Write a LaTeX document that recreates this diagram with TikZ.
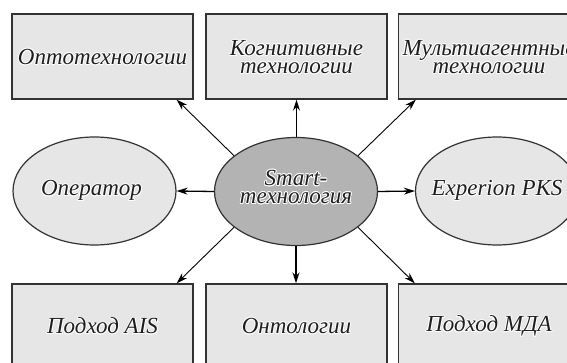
\documentclass[tikz,border=0pt]{standalone}
\usepackage{fontspec}
\setmainfont{Liberation Serif}
\usepackage{contour}
\contourlength{0.8pt}
\usetikzlibrary{arrows.meta,shapes.geometric,calc}
\newcommand{\halo}[1]{\contour{white}{#1}}
\definecolor{boxfill}{HTML}{E6E6E6}
\definecolor{midfill}{HTML}{B3B3B3}
\definecolor{edge}{HTML}{333333}
\definecolor{ink}{HTML}{1E1E1E}
\tikzset{
  boxst/.style={draw=edge,line width=1.4pt,fill=boxfill,minimum width=181pt,minimum height=85pt,inner sep=0pt},
  ellst/.style={ellipse,draw=edge,line width=1.2pt,fill=boxfill,minimum width=163pt,minimum height=108pt,inner sep=0pt},
  lbl/.style={font=\fontsize{23}{18}\selectfont\itshape,align=center,text=ink,inner sep=0pt},
  arr/.style={-{Stealth[length=11pt,width=7pt]},line width=0.9pt,black},
  arrb/.style={-{Stealth[length=11pt,width=7pt]},line width=1.3pt,black}
}
\begin{document}
\begin{tikzpicture}[x=1pt,y=-1pt]
\useasboundingbox (0,0) rectangle (567,363);
\clip (0,0) rectangle (567,363);
% top boxes
\node[boxst] (t1) at (102.5,56.5) {};
\node[boxst] (t2) at (296.5,56.5) {};
\node[boxst] (t3) at (489,56.5) {};
% bottom boxes
\node[boxst] (b1) at (102.5,326.5) {};
\node[boxst] (b2) at (296.5,326.5) {};
\node[boxst] (b3) at (489,326.5) {};
% ellipses
\node[ellst] (el) at (94.5,191) {};
\node[ellst,fill=midfill] (c) at (296,191.5) {};
\node[ellst] (er) at (497,191) {};
% labels
\node[lbl] (lt1) at ([yshift=-1pt]t1.center) {\halo{Оптотехнологии}};
\node[lbl] (lt2) at ([yshift=-1pt]t2.center) {\halo{Когнитивные}\\\halo{технологии}};
\node[lbl] (lt3) at ([yshift=-1pt]t3.center) {\halo{Мультиагентные}\\\halo{технологии}};
\node[lbl] (lb1) at (b1.center) {\halo{Подход AIS}};
\node[lbl] (lb2) at (b2.center) {\halo{Онтологии}};
\node[lbl] (lb3) at (b3.center) {\halo{Подход МДА}};
\node[lbl] (lel) at ([xshift=-3pt]el.center) {\halo{Оператор}};
\node[lbl] (lc) at ([yshift=4pt]c.center) {\halo{Smart-}\\\halo{технология}};
\node[lbl] (ler) at (er.center) {\halo{Experion PKS}};
% arrows
\draw[arr] (c.150) -- ([xshift=-17pt]t1.south east);
\draw[arrb] (c.north -| t2.south) -- (t2.south);
\draw[arr] (c.30) -- ([xshift=18pt]t3.south west);
\draw[arr] (c.210) -- ([xshift=-17pt]b1.north east);
\draw[arrb] (c.south) -- (c.south |- b2.north);
\draw[arr] (c.330) -- ([xshift=17pt]b3.north west);
\draw[arrb] (c.west) -- (el.east);
\draw[arrb] (c.east) -- (er.west);
\end{tikzpicture}
\end{document}
